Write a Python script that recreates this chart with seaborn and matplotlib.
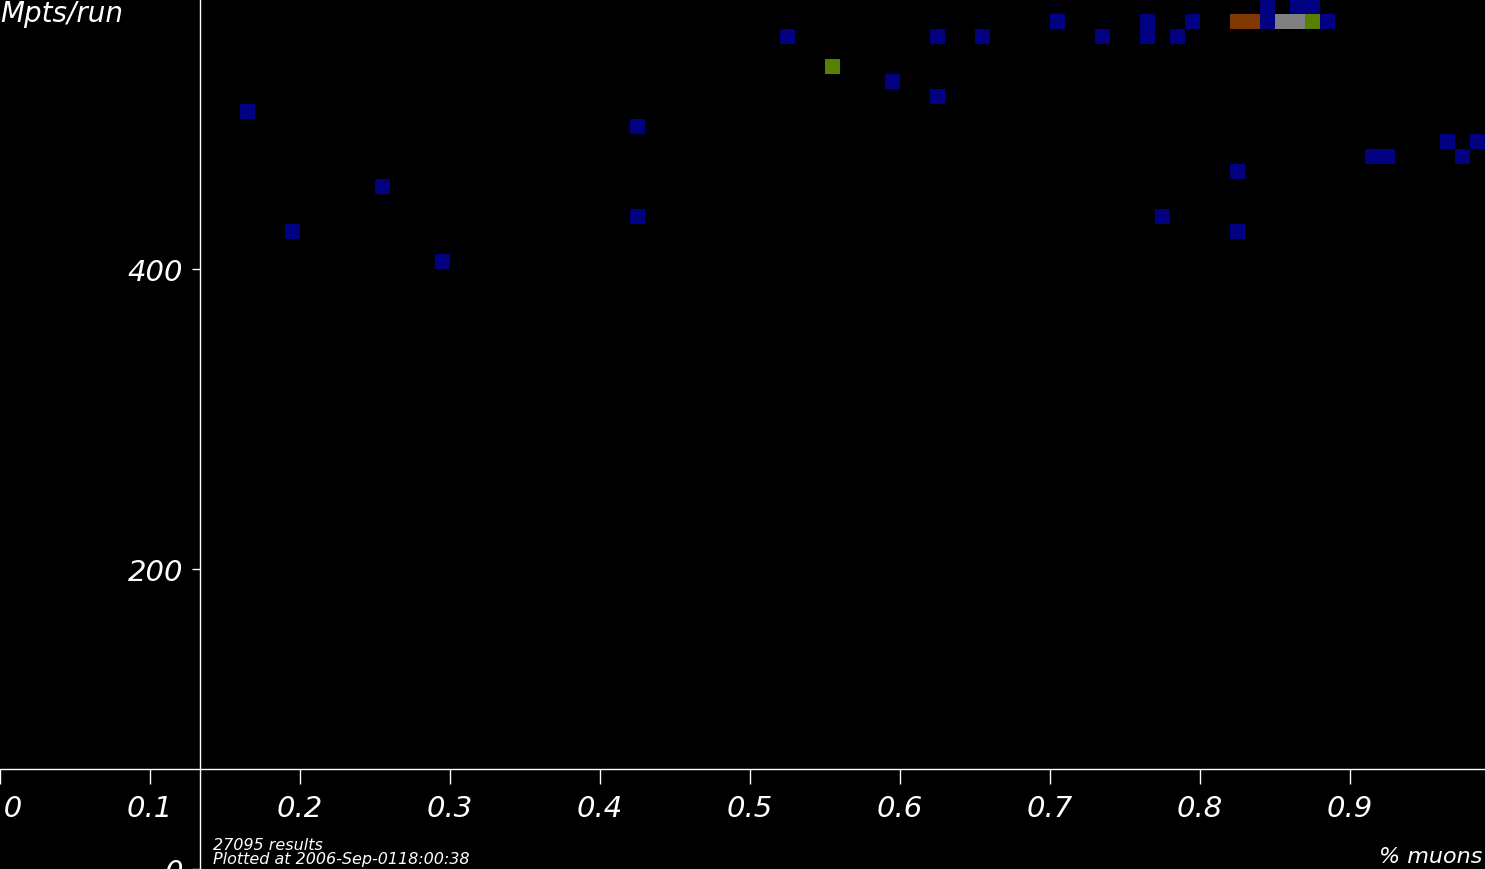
import pandas as pd
import matplotlib
matplotlib.use("Agg")
import matplotlib.pyplot as plt
from matplotlib.colors import ListedColormap
import seaborn as sns

# binned results: bin centre x (% muons), bin centre y (Mpts/run), level (1 blue, 2 green, 3 brown, 4 grey)
muons = [0.165, 0.195, 0.255, 0.295, 0.425, 0.425, 0.525, 0.555, 0.595, 0.625,
         0.625, 0.655, 0.705, 0.735, 0.765, 0.765, 0.775, 0.785, 0.795, 0.825,
         0.825, 0.825, 0.835, 0.845, 0.845, 0.855, 0.865, 0.865, 0.875, 0.875,
         0.885, 0.915, 0.925, 0.965, 0.975, 0.985]
mpts = [505, 425, 455, 405, 495, 435, 555, 535, 525, 555,
        515, 555, 565, 555, 565, 555, 435, 555, 565, 465,
        425, 565, 565, 575, 565, 565, 565, 575, 565, 575,
        565, 475, 475, 485, 475, 485]
level = [1, 1, 1, 1, 1, 1, 1, 2, 1, 1,
         1, 1, 1, 1, 1, 1, 1, 1, 1, 1,
         1, 3, 3, 1, 1, 4, 4, 1, 2, 1,
         1, 1, 1, 1, 1, 1]
level_colors = ["#000080", "#588000", "#803800", "#808080"]

x_ticks = [0.0, 0.1, 0.2, 0.3, 0.4, 0.5, 0.6, 0.7, 0.8, 0.9]
y_ticks = [0, 200, 400]

df = pd.DataFrame({"muons": muons, "mpts": mpts, "level": level})

sns.set_style("dark")
plt.rcParams["font.family"] = ["DejaVu Sans"]

fig = plt.figure(figsize=(14.85, 8.7), dpi=100, facecolor="black")
ax = fig.add_axes([0, 0, 1, 1], facecolor="black")

sns.histplot(data=df, x="muons", y="mpts", weights="level",
             binwidth=(0.01, 10), binrange=((0.0, 1.0), (0, 580)),
             cmap=ListedColormap(level_colors), vmin=0.5, vmax=4.5,
             ax=ax)

ax.set_xlim(0, 0.99)
ax.set_ylim(0, 580)
ax.grid(False)

for side in ["top", "right"]:
    ax.spines[side].set_visible(False)
ax.spines["left"].set_position(("data", 0.1333))
ax.spines["bottom"].set_position(("data", 66.67))
for side in ["left", "bottom"]:
    ax.spines[side].set_color("white")
    ax.spines[side].set_linewidth(1)

ax.set_xticks(x_ticks)
ax.set_xticklabels([f"{t:.1f}" for t in x_ticks])
ax.set_yticks(y_ticks)
ax.set_yticklabels([str(t) for t in y_ticks])
ax.tick_params(axis="x", bottom=True, direction="out", length=11, width=1,
               color="white", labelcolor="white", labelsize=21, pad=7)
ax.tick_params(axis="y", left=True, direction="out", length=6, width=1,
               color="white", labelcolor="white", labelsize=21, pad=6)
for lab in ax.get_xticklabels() + ax.get_yticklabels():
    lab.set_fontstyle("italic")

ax.set_xlabel("")
ax.set_ylabel("")

fig.text(0.0, 1.0, "Mpts/run", color="white", fontsize=20, style="italic",
         ha="left", va="top")
fig.text(0.998, 0.003, "% muons", color="white", fontsize=16, style="italic",
         ha="right", va="bottom")
fig.text(0.1434, 0.004, "27095 results\nPlotted at 2006-Sep-0118:00:38",
         color="white", fontsize=11.5, style="italic", ha="left", va="bottom",
         linespacing=0.85)

fig.savefig("out.png", dpi=100, facecolor="black")
